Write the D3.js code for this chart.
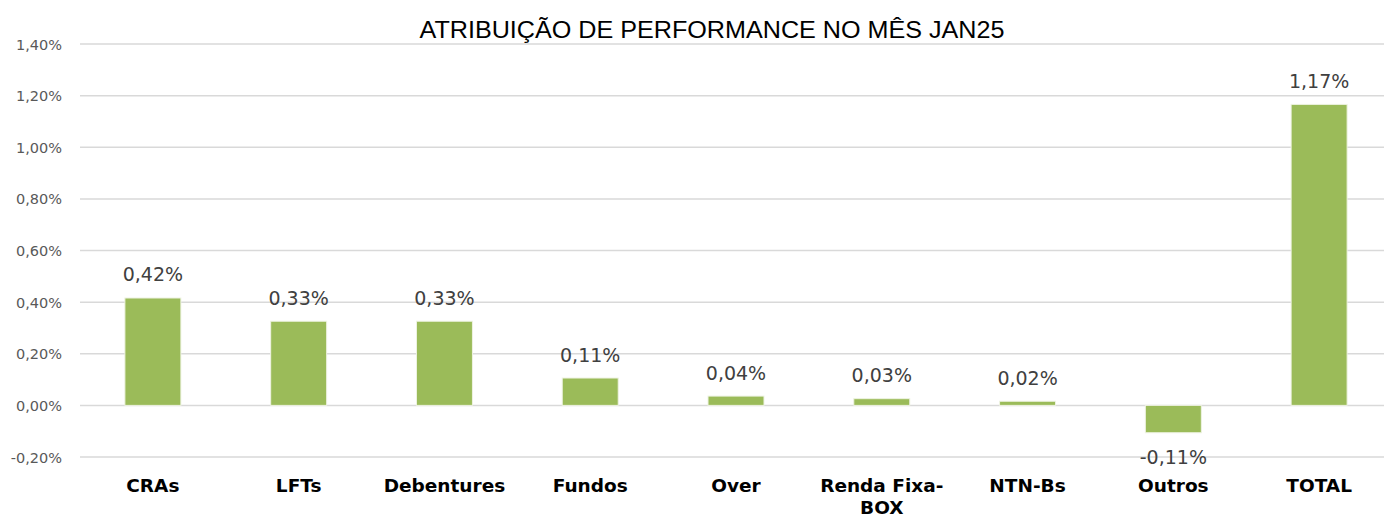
<!DOCTYPE html>
<html>
<head>
<meta charset="utf-8">
<script src="https://cdn.jsdelivr.net/npm/d3@7"></script>
<style>
  html, body { margin: 0; padding: 0; background: #fff; }
  svg { display: block; }
</style>
</head>
<body>
<div id="chart"></div>
<script>
const title = "ATRIBUIÇÃO DE PERFORMANCE NO MÊS JAN25";
const categories = ["CRAs", "LFTs", "Debentures", "Fundos", "Over", "Renda Fixa-|BOX", "NTN-Bs", "Outros", "TOTAL"];
const values = [0.416, 0.326, 0.326, 0.106, 0.036, 0.026, 0.016, -0.106, 1.166];
const yTicks = [-0.2, 0, 0.2, 0.4, 0.6, 0.8, 1.0, 1.2, 1.4];

const width = 1384;
const height = 517;
const plot = { left: 80, right: 1392, top: 44, bottom: 457 };

// excel style: comma decimal, plain hyphen for negatives
const pct = (v) => (v < 0 ? "-" : "") + Math.abs(v).toFixed(2).replace(".", ",") + "%";

const svg = d3.select("#chart")
  .append("svg")
  .attr("width", width)
  .attr("height", height);

const x = d3.scaleBand()
  .domain(categories)
  .range([plot.left, plot.right])
  .paddingInner(0.616)
  .paddingOuter(0.308);

const y = d3.scaleLinear()
  .domain([-0.2, 1.4])
  .range([plot.bottom, plot.top]);

// gridlines
svg.append("g")
  .selectAll("line")
  .data(yTicks)
  .join("line")
  .attr("x1", plot.left)
  .attr("x2", width)
  .attr("y1", (d) => y(d))
  .attr("y2", (d) => y(d))
  .attr("stroke", "#d9d9d9")
  .attr("stroke-width", 1.5);

// y tick labels
svg.append("g")
  .selectAll("text")
  .data(yTicks)
  .join("text")
  .attr("x", 62)
  .attr("y", (d) => y(d) + 5.5)
  .attr("text-anchor", "end")
  .attr("font-family", "DejaVu Sans")
  .attr("font-size", 14.5)
  .attr("fill", "#595959")
  .text((d) => pct(d));

// bars
svg.append("g")
  .selectAll("rect")
  .data(values)
  .join("rect")
  .attr("x", (d, i) => x(categories[i]))
  .attr("width", x.bandwidth())
  .attr("y", (d) => y(Math.max(0, d)))
  .attr("height", (d) => Math.abs(y(d) - y(0)))
  .attr("fill", "#9bbb59")
  .attr("stroke", "#eef3e2")
  .attr("stroke-width", 1);

// value labels
svg.append("g")
  .selectAll("text")
  .data(values)
  .join("text")
  .attr("x", (d, i) => x(categories[i]) + x.bandwidth() / 2)
  .attr("y", (d) => d >= 0 ? y(d) - 16.5 : y(d) + 31)
  .attr("text-anchor", "middle")
  .attr("font-family", "DejaVu Sans")
  .attr("font-size", 19)
  .attr("fill", "#404040")
  .text((d) => pct(d));

// category labels
const cat = svg.append("g")
  .selectAll("text")
  .data(categories)
  .join("text")
  .attr("x", (d) => x(d) + x.bandwidth() / 2)
  .attr("y", 492)
  .attr("text-anchor", "middle")
  .attr("font-family", "DejaVu Sans")
  .attr("font-weight", "bold")
  .attr("font-size", 18.5)
  .attr("fill", "#000");

cat.each(function (d) {
  const t = d3.select(this);
  d.split("|").forEach((part, i) => {
    t.append("tspan")
      .attr("x", t.attr("x"))
      .attr("dy", i === 0 ? 0 : 22)
      .text(part);
  });
});

// title
svg.append("text")
  .attr("x", 712)
  .attr("y", 38)
  .attr("text-anchor", "middle")
  .attr("font-family", "Liberation Sans")
  .attr("font-size", 23)
  .attr("fill", "#000")
  .attr("textLength", 585)
  .attr("lengthAdjust", "spacingAndGlyphs")
  .text(title);
</script>
</body>
</html>
